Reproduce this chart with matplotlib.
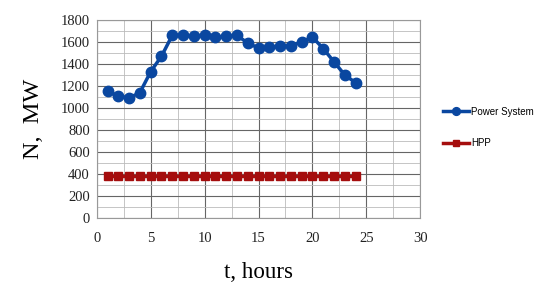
import matplotlib
matplotlib.use("Agg")
from matplotlib import pyplot as plt
from matplotlib.ticker import MultipleLocator

hours = list(range(1, 25))
power_system = [1150, 1110, 1090, 1140, 1330, 1470, 1660, 1660, 1655, 1660, 1645, 1650,
                1660, 1590, 1545, 1550, 1560, 1565, 1600, 1645, 1540, 1420, 1300, 1230]
hpp = [380] * 24

fig = plt.figure(figsize=(5.5, 3.07), dpi=100)
ax = fig.add_axes([0.176, 0.29, 0.588, 0.645])

ax.plot(hours, power_system, color="#0a47a0", lw=2.5, marker="o", ms=7.5, label="Power System")
ax.plot(hours, hpp, color="#a50d0d", lw=2.5, marker="s", ms=6, label="HPP")

ax.set_xlim(0, 30)
ax.set_ylim(0, 1800)
ax.xaxis.set_major_locator(MultipleLocator(5))
ax.xaxis.set_minor_locator(MultipleLocator(2.5))
ax.yaxis.set_major_locator(MultipleLocator(200))
ax.yaxis.set_minor_locator(MultipleLocator(100))
ax.grid(which="major", color="#666666", lw=0.8)
ax.grid(which="minor", color="#bbbbbb", lw=0.6)
ax.set_axisbelow(True)
for s in ax.spines.values():
    s.set_color("#999999")
    s.set_linewidth(0.8)
ax.tick_params(which="both", length=0, labelsize=10.5)
ax.tick_params(axis="x", pad=10)
ax.tick_params(axis="y", pad=5)
for lab in ax.get_xticklabels() + ax.get_yticklabels():
    lab.set_family("Liberation Serif")
    lab.set_color("#222222")

ax.set_xlabel("t, hours", family="Liberation Serif", fontsize=16.5, labelpad=12)
ax.set_ylabel("N,  MW", family="Liberation Serif", fontsize=17.5, labelpad=12)

fig.legend(loc="center left", bbox_to_anchor=(0.79, 0.585), frameon=False,
           prop={"family": "Liberation Sans", "size": 7}, handlelength=2.6,
           labelspacing=2.2, handletextpad=0.3, markerscale=0.75)

fig.savefig("out.png", dpi=100)
